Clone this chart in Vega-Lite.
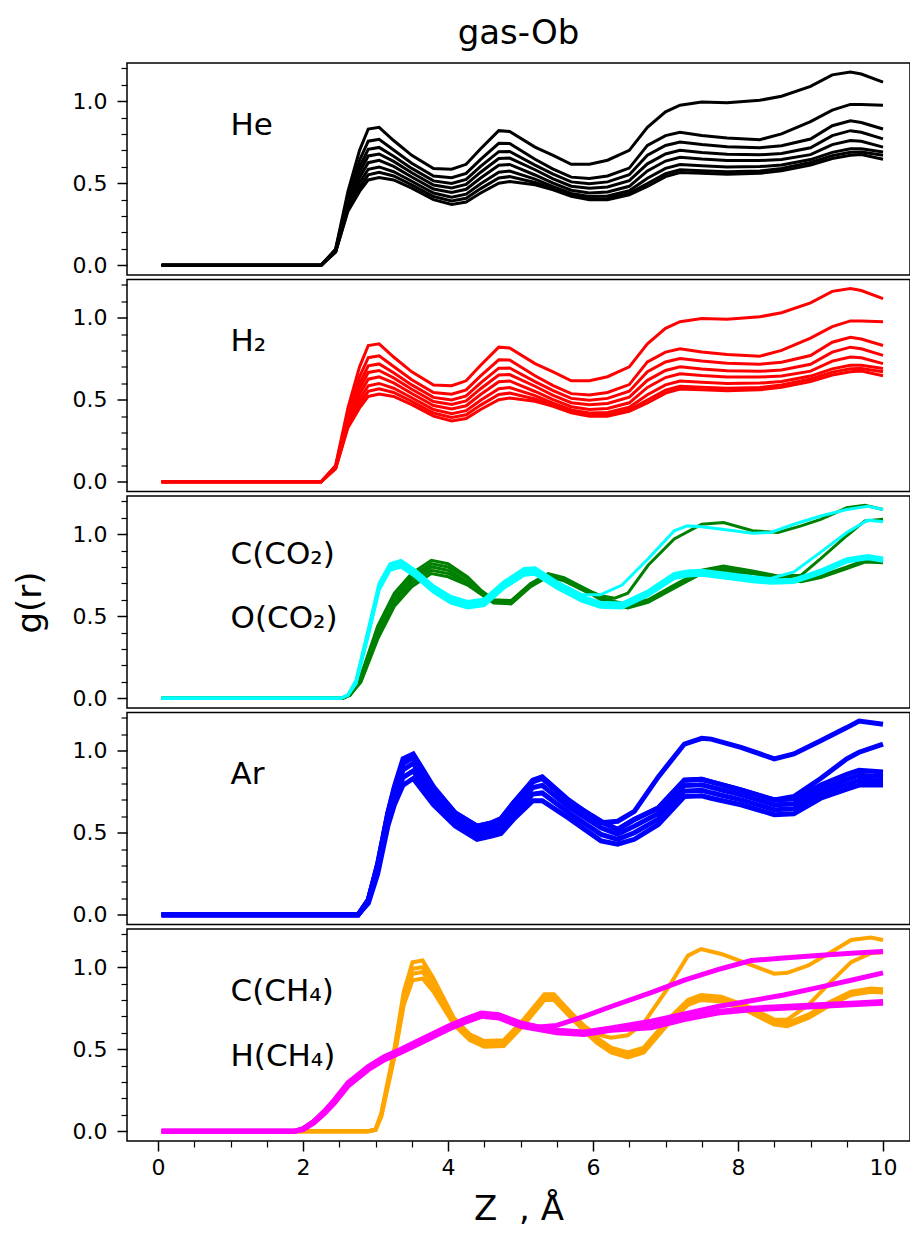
{
"$schema": "https://vega.github.io/schema/vega-lite/v6.json",
"padding": {"left": 12, "top": 16, "right": 0, "bottom": 5},
"spacing": 4.5,
"bounds": "flush",
"config": {
 "font": "DejaVu Sans",
 "view": {"stroke": "black", "strokeWidth": 1.5},
 "axis": {"labelFont": "DejaVu Sans", "labelFontSize": 22, "labelColor": "black", "tickColor": "black", "domain": false, "grid": false, "titleFont": "DejaVu Sans", "titleFontWeight": "normal", "titleColor": "black", "titleFontSize": 34, "labelPadding": 10}
},
"datasets": {
"he": [
{"s":1,"x":0.05,"y":0},{"s":1,"x":2.25,"y":0},{"s":1,"x":2.45,"y":0.10},{"s":1,"x":2.62,"y":0.45},{"s":1,"x":2.78,"y":0.70},{"s":1,"x":2.9,"y":0.83},{"s":1,"x":3.05,"y":0.84},{"s":1,"x":3.25,"y":0.76},{"s":1,"x":3.5,"y":0.67},{"s":1,"x":3.8,"y":0.59},{"s":1,"x":4.05,"y":0.585},{"s":1,"x":4.25,"y":0.615},{"s":1,"x":4.45,"y":0.71},{"s":1,"x":4.7,"y":0.82},{"s":1,"x":4.85,"y":0.815},{"s":1,"x":5.2,"y":0.72},{"s":1,"x":5.45,"y":0.67},{"s":1,"x":5.7,"y":0.615},{"s":1,"x":5.95,"y":0.615},{"s":1,"x":6.2,"y":0.64},{"s":1,"x":6.5,"y":0.70},{"s":1,"x":6.75,"y":0.84},{"s":1,"x":7.0,"y":0.935},{"s":1,"x":7.2,"y":0.975},{"s":1,"x":7.5,"y":0.994},{"s":1,"x":7.85,"y":0.99},{"s":1,"x":8.3,"y":1.005},{"s":1,"x":8.6,"y":1.03},{"s":1,"x":9.0,"y":1.09},{"s":1,"x":9.3,"y":1.16},{"s":1,"x":9.55,"y":1.177},{"s":1,"x":9.7,"y":1.165},{"s":1,"x":10.0,"y":1.116},
{"s":2,"x":0.05,"y":0},{"s":2,"x":2.25,"y":0},{"s":2,"x":2.45,"y":0.095},{"s":2,"x":2.62,"y":0.421},{"s":2,"x":2.78,"y":0.64},{"s":2,"x":2.9,"y":0.756},{"s":2,"x":3.05,"y":0.767},{"s":2,"x":3.25,"y":0.702},{"s":2,"x":3.5,"y":0.622},{"s":2,"x":3.8,"y":0.544},{"s":2,"x":4.05,"y":0.533},{"s":2,"x":4.25,"y":0.56},{"s":2,"x":4.45,"y":0.645},{"s":2,"x":4.7,"y":0.743},{"s":2,"x":4.85,"y":0.742},{"s":2,"x":5.2,"y":0.646},{"s":2,"x":5.45,"y":0.586},{"s":2,"x":5.7,"y":0.537},{"s":2,"x":5.95,"y":0.529},{"s":2,"x":6.2,"y":0.544},{"s":2,"x":6.5,"y":0.592},{"s":2,"x":6.75,"y":0.73},{"s":2,"x":7.0,"y":0.79},{"s":2,"x":7.2,"y":0.81},{"s":2,"x":7.5,"y":0.79},{"s":2,"x":7.85,"y":0.775},{"s":2,"x":8.3,"y":0.765},{"s":2,"x":8.6,"y":0.80},{"s":2,"x":9.0,"y":0.875},{"s":2,"x":9.3,"y":0.945},{"s":2,"x":9.55,"y":0.98},{"s":2,"x":9.7,"y":0.98},{"s":2,"x":10.0,"y":0.975},
{"s":3,"x":0.05,"y":0},{"s":3,"x":2.25,"y":0},{"s":3,"x":2.45,"y":0.092},{"s":3,"x":2.62,"y":0.402},{"s":3,"x":2.78,"y":0.60},{"s":3,"x":2.9,"y":0.706},{"s":3,"x":3.05,"y":0.718},{"s":3,"x":3.25,"y":0.664},{"s":3,"x":3.5,"y":0.59},{"s":3,"x":3.8,"y":0.514},{"s":3,"x":4.05,"y":0.499},{"s":3,"x":4.25,"y":0.523},{"s":3,"x":4.45,"y":0.602},{"s":3,"x":4.7,"y":0.692},{"s":3,"x":4.85,"y":0.693},{"s":3,"x":5.2,"y":0.61},{"s":3,"x":5.45,"y":0.555},{"s":3,"x":5.7,"y":0.508},{"s":3,"x":5.95,"y":0.497},{"s":3,"x":6.2,"y":0.508},{"s":3,"x":6.5,"y":0.552},{"s":3,"x":6.75,"y":0.67},{"s":3,"x":7.0,"y":0.73},{"s":3,"x":7.2,"y":0.751},{"s":3,"x":7.5,"y":0.735},{"s":3,"x":7.85,"y":0.722},{"s":3,"x":8.3,"y":0.716},{"s":3,"x":8.6,"y":0.728},{"s":3,"x":9.0,"y":0.769},{"s":3,"x":9.3,"y":0.85},{"s":3,"x":9.55,"y":0.88},{"s":3,"x":9.7,"y":0.87},{"s":3,"x":10.0,"y":0.83},
{"s":4,"x":0.05,"y":0},{"s":4,"x":2.25,"y":0},{"s":4,"x":2.45,"y":0.089},{"s":4,"x":2.62,"y":0.386},{"s":4,"x":2.78,"y":0.568},{"s":4,"x":2.9,"y":0.666},{"s":4,"x":3.05,"y":0.678},{"s":4,"x":3.25,"y":0.633},{"s":4,"x":3.5,"y":0.564},{"s":4,"x":3.8,"y":0.489},{"s":4,"x":4.05,"y":0.471},{"s":4,"x":4.25,"y":0.493},{"s":4,"x":4.45,"y":0.567},{"s":4,"x":4.7,"y":0.65},{"s":4,"x":4.85,"y":0.653},{"s":4,"x":5.2,"y":0.582},{"s":4,"x":5.45,"y":0.527},{"s":4,"x":5.7,"y":0.482},{"s":4,"x":5.95,"y":0.469},{"s":4,"x":6.2,"y":0.477},{"s":4,"x":6.5,"y":0.516},{"s":4,"x":6.75,"y":0.618},{"s":4,"x":7.0,"y":0.678},{"s":4,"x":7.2,"y":0.70},{"s":4,"x":7.5,"y":0.687},{"s":4,"x":7.85,"y":0.676},{"s":4,"x":8.3,"y":0.673},{"s":4,"x":8.6,"y":0.681},{"s":4,"x":9.0,"y":0.716},{"s":4,"x":9.3,"y":0.79},{"s":4,"x":9.55,"y":0.82},{"s":4,"x":9.7,"y":0.81},{"s":4,"x":10.0,"y":0.77},
{"s":5,"x":0.05,"y":0},{"s":5,"x":2.25,"y":0},{"s":5,"x":2.45,"y":0.087},{"s":5,"x":2.62,"y":0.371},{"s":5,"x":2.78,"y":0.535},{"s":5,"x":2.9,"y":0.625},{"s":5,"x":3.05,"y":0.639},{"s":5,"x":3.25,"y":0.602},{"s":5,"x":3.5,"y":0.538},{"s":5,"x":3.8,"y":0.465},{"s":5,"x":4.05,"y":0.443},{"s":5,"x":4.25,"y":0.463},{"s":5,"x":4.45,"y":0.532},{"s":5,"x":4.7,"y":0.609},{"s":5,"x":4.85,"y":0.614},{"s":5,"x":5.2,"y":0.55},{"s":5,"x":5.45,"y":0.50},{"s":5,"x":5.7,"y":0.457},{"s":5,"x":5.95,"y":0.441},{"s":5,"x":6.2,"y":0.446},{"s":5,"x":6.5,"y":0.481},{"s":5,"x":6.75,"y":0.575},{"s":5,"x":7.0,"y":0.635},{"s":5,"x":7.2,"y":0.658},{"s":5,"x":7.5,"y":0.647},{"s":5,"x":7.85,"y":0.639},{"s":5,"x":8.3,"y":0.638},{"s":5,"x":8.6,"y":0.645},{"s":5,"x":9.0,"y":0.674},{"s":5,"x":9.3,"y":0.735},{"s":5,"x":9.55,"y":0.76},{"s":5,"x":9.7,"y":0.755},{"s":5,"x":10.0,"y":0.72},
{"s":6,"x":0.05,"y":0},{"s":6,"x":2.25,"y":0},{"s":6,"x":2.45,"y":0.084},{"s":6,"x":2.62,"y":0.355},{"s":6,"x":2.78,"y":0.503},{"s":6,"x":2.9,"y":0.585},{"s":6,"x":3.05,"y":0.599},{"s":6,"x":3.25,"y":0.57},{"s":6,"x":3.5,"y":0.512},{"s":6,"x":3.8,"y":0.44},{"s":6,"x":4.05,"y":0.415},{"s":6,"x":4.25,"y":0.433},{"s":6,"x":4.45,"y":0.497},{"s":6,"x":4.7,"y":0.567},{"s":6,"x":4.85,"y":0.574},{"s":6,"x":5.2,"y":0.525},{"s":6,"x":5.45,"y":0.479},{"s":6,"x":5.7,"y":0.438},{"s":6,"x":5.95,"y":0.419},{"s":6,"x":6.2,"y":0.422},{"s":6,"x":6.5,"y":0.454},{"s":6,"x":6.75,"y":0.53},{"s":6,"x":7.0,"y":0.59},{"s":6,"x":7.2,"y":0.614},{"s":6,"x":7.5,"y":0.606},{"s":6,"x":7.85,"y":0.599},{"s":6,"x":8.3,"y":0.601},{"s":6,"x":8.6,"y":0.611},{"s":6,"x":9.0,"y":0.644},{"s":6,"x":9.3,"y":0.688},{"s":6,"x":9.55,"y":0.71},{"s":6,"x":9.7,"y":0.71},{"s":6,"x":10.0,"y":0.69},
{"s":7,"x":0.05,"y":0},{"s":7,"x":2.25,"y":0},{"s":7,"x":2.45,"y":0.082},{"s":7,"x":2.62,"y":0.342},{"s":7,"x":2.78,"y":0.475},{"s":7,"x":2.9,"y":0.551},{"s":7,"x":3.05,"y":0.566},{"s":7,"x":3.25,"y":0.544},{"s":7,"x":3.5,"y":0.49},{"s":7,"x":3.8,"y":0.419},{"s":7,"x":4.05,"y":0.392},{"s":7,"x":4.25,"y":0.408},{"s":7,"x":4.45,"y":0.467},{"s":7,"x":4.7,"y":0.532},{"s":7,"x":4.85,"y":0.54},{"s":7,"x":5.2,"y":0.504},{"s":7,"x":5.45,"y":0.466},{"s":7,"x":5.7,"y":0.426},{"s":7,"x":5.95,"y":0.406},{"s":7,"x":6.2,"y":0.407},{"s":7,"x":6.5,"y":0.438},{"s":7,"x":6.75,"y":0.498},{"s":7,"x":7.0,"y":0.558},{"s":7,"x":7.2,"y":0.582},{"s":7,"x":7.5,"y":0.576},{"s":7,"x":7.85,"y":0.57},{"s":7,"x":8.3,"y":0.574},{"s":7,"x":8.6,"y":0.59},{"s":7,"x":9.0,"y":0.626},{"s":7,"x":9.3,"y":0.668},{"s":7,"x":9.55,"y":0.689},{"s":7,"x":9.7,"y":0.69},{"s":7,"x":10.0,"y":0.67},
{"s":8,"x":0.05,"y":0},{"s":8,"x":2.25,"y":0},{"s":8,"x":2.45,"y":0.08},{"s":8,"x":2.62,"y":0.33},{"s":8,"x":2.78,"y":0.45},{"s":8,"x":2.9,"y":0.52},{"s":8,"x":3.05,"y":0.535},{"s":8,"x":3.25,"y":0.52},{"s":8,"x":3.5,"y":0.47},{"s":8,"x":3.8,"y":0.40},{"s":8,"x":4.05,"y":0.37},{"s":8,"x":4.25,"y":0.385},{"s":8,"x":4.45,"y":0.44},{"s":8,"x":4.7,"y":0.50},{"s":8,"x":4.85,"y":0.51},{"s":8,"x":5.2,"y":0.49},{"s":8,"x":5.45,"y":0.46},{"s":8,"x":5.7,"y":0.42},{"s":8,"x":5.95,"y":0.40},{"s":8,"x":6.2,"y":0.40},{"s":8,"x":6.5,"y":0.43},{"s":8,"x":6.75,"y":0.48},{"s":8,"x":7.0,"y":0.54},{"s":8,"x":7.2,"y":0.565},{"s":8,"x":7.5,"y":0.56},{"s":8,"x":7.85,"y":0.555},{"s":8,"x":8.3,"y":0.56},{"s":8,"x":8.6,"y":0.575},{"s":8,"x":9.0,"y":0.61},{"s":8,"x":9.3,"y":0.65},{"s":8,"x":9.55,"y":0.67},{"s":8,"x":9.7,"y":0.675},{"s":8,"x":10.0,"y":0.646}
],
"co2c": [
{"s":1,"x":0.05,"y":0},{"s":1,"x":2.55,"y":0},{"s":1,"x":2.65,"y":0.03},{"s":1,"x":2.8,"y":0.14},{"s":1,"x":3.03,"y":0.44},{"s":1,"x":3.26,"y":0.64},{"s":1,"x":3.5,"y":0.76},{"s":1,"x":3.77,"y":0.84},{"s":1,"x":4.0,"y":0.82},{"s":1,"x":4.27,"y":0.74},{"s":1,"x":4.45,"y":0.66},{"s":1,"x":4.63,"y":0.60},{"s":1,"x":4.87,"y":0.595},{"s":1,"x":5.14,"y":0.70},{"s":1,"x":5.38,"y":0.76},{"s":1,"x":5.6,"y":0.735},{"s":1,"x":5.97,"y":0.65},{"s":1,"x":6.11,"y":0.625},{"s":1,"x":6.3,"y":0.61},{"s":1,"x":6.48,"y":0.64},{"s":1,"x":6.76,"y":0.81},{"s":1,"x":7.12,"y":0.97},{"s":1,"x":7.5,"y":1.06},{"s":1,"x":7.8,"y":1.07},{"s":1,"x":8.2,"y":1.02},{"s":1,"x":8.55,"y":1.01},{"s":1,"x":8.87,"y":1.05},{"s":1,"x":9.14,"y":1.09},{"s":1,"x":9.5,"y":1.16},{"s":1,"x":9.75,"y":1.175},{"s":1,"x":10.0,"y":1.15},
{"s":2,"x":0.05,"y":0},{"s":2,"x":2.55,"y":0},{"s":2,"x":2.65,"y":0.03},{"s":2,"x":2.8,"y":0.13},{"s":2,"x":3.03,"y":0.42},{"s":2,"x":3.26,"y":0.62},{"s":2,"x":3.5,"y":0.74},{"s":2,"x":3.77,"y":0.82},{"s":2,"x":4.0,"y":0.80},{"s":2,"x":4.27,"y":0.73},{"s":2,"x":4.45,"y":0.655},{"s":2,"x":4.63,"y":0.595},{"s":2,"x":4.87,"y":0.59},{"s":2,"x":5.14,"y":0.695},{"s":2,"x":5.38,"y":0.755},{"s":2,"x":5.6,"y":0.73},{"s":2,"x":5.97,"y":0.65},{"s":2,"x":6.11,"y":0.615},{"s":2,"x":6.3,"y":0.59},{"s":2,"x":6.48,"y":0.57},{"s":2,"x":6.76,"y":0.60},{"s":2,"x":7.12,"y":0.69},{"s":2,"x":7.5,"y":0.78},{"s":2,"x":7.8,"y":0.805},{"s":2,"x":8.2,"y":0.775},{"s":2,"x":8.55,"y":0.745},{"s":2,"x":8.87,"y":0.75},{"s":2,"x":9.14,"y":0.85},{"s":2,"x":9.5,"y":0.99},{"s":2,"x":9.75,"y":1.08},{"s":2,"x":10.0,"y":1.09},
{"s":3,"x":0.05,"y":0},{"s":3,"x":2.55,"y":0},{"s":3,"x":2.65,"y":0.02},{"s":3,"x":2.8,"y":0.12},{"s":3,"x":3.03,"y":0.40},{"s":3,"x":3.26,"y":0.60},{"s":3,"x":3.5,"y":0.72},{"s":3,"x":3.77,"y":0.80},{"s":3,"x":4.0,"y":0.78},{"s":3,"x":4.27,"y":0.71},{"s":3,"x":4.45,"y":0.65},{"s":3,"x":4.63,"y":0.59},{"s":3,"x":4.87,"y":0.585},{"s":3,"x":5.14,"y":0.69},{"s":3,"x":5.38,"y":0.75},{"s":3,"x":5.6,"y":0.725},{"s":3,"x":5.97,"y":0.645},{"s":3,"x":6.11,"y":0.61},{"s":3,"x":6.3,"y":0.58},{"s":3,"x":6.48,"y":0.56},{"s":3,"x":6.76,"y":0.595},{"s":3,"x":7.12,"y":0.68},{"s":3,"x":7.5,"y":0.77},{"s":3,"x":7.8,"y":0.79},{"s":3,"x":8.2,"y":0.77},{"s":3,"x":8.55,"y":0.74},{"s":3,"x":8.87,"y":0.72},{"s":3,"x":9.14,"y":0.745},{"s":3,"x":9.5,"y":0.80},{"s":3,"x":9.75,"y":0.84},{"s":3,"x":10.0,"y":0.835},
{"s":4,"x":0.05,"y":0},{"s":4,"x":2.55,"y":0},{"s":4,"x":2.65,"y":0.02},{"s":4,"x":2.8,"y":0.11},{"s":4,"x":3.03,"y":0.38},{"s":4,"x":3.26,"y":0.58},{"s":4,"x":3.5,"y":0.70},{"s":4,"x":3.77,"y":0.78},{"s":4,"x":4.0,"y":0.76},{"s":4,"x":4.27,"y":0.70},{"s":4,"x":4.45,"y":0.64},{"s":4,"x":4.63,"y":0.585},{"s":4,"x":4.87,"y":0.58},{"s":4,"x":5.14,"y":0.685},{"s":4,"x":5.38,"y":0.745},{"s":4,"x":5.6,"y":0.72},{"s":4,"x":5.97,"y":0.64},{"s":4,"x":6.11,"y":0.605},{"s":4,"x":6.3,"y":0.575},{"s":4,"x":6.48,"y":0.555},{"s":4,"x":6.76,"y":0.59},{"s":4,"x":7.12,"y":0.675},{"s":4,"x":7.5,"y":0.765},{"s":4,"x":7.8,"y":0.78},{"s":4,"x":8.2,"y":0.765},{"s":4,"x":8.55,"y":0.735},{"s":4,"x":8.87,"y":0.715},{"s":4,"x":9.14,"y":0.74},{"s":4,"x":9.5,"y":0.795},{"s":4,"x":9.75,"y":0.835},{"s":4,"x":10.0,"y":0.83},
{"s":5,"x":0.05,"y":0},{"s":5,"x":2.55,"y":0},{"s":5,"x":2.65,"y":0.02},{"s":5,"x":2.8,"y":0.10},{"s":5,"x":3.03,"y":0.36},{"s":5,"x":3.26,"y":0.56},{"s":5,"x":3.5,"y":0.68},{"s":5,"x":3.77,"y":0.76},{"s":5,"x":4.0,"y":0.74},{"s":5,"x":4.27,"y":0.69},{"s":5,"x":4.45,"y":0.635},{"s":5,"x":4.63,"y":0.58},{"s":5,"x":4.87,"y":0.575},{"s":5,"x":5.14,"y":0.68},{"s":5,"x":5.38,"y":0.74},{"s":5,"x":5.6,"y":0.715},{"s":5,"x":5.97,"y":0.635},{"s":5,"x":6.11,"y":0.60},{"s":5,"x":6.3,"y":0.57},{"s":5,"x":6.48,"y":0.55},{"s":5,"x":6.76,"y":0.585},{"s":5,"x":7.12,"y":0.67},{"s":5,"x":7.5,"y":0.76},{"s":5,"x":7.8,"y":0.77},{"s":5,"x":8.2,"y":0.76},{"s":5,"x":8.55,"y":0.73},{"s":5,"x":8.87,"y":0.71},{"s":5,"x":9.14,"y":0.735},{"s":5,"x":9.5,"y":0.79},{"s":5,"x":9.75,"y":0.83},{"s":5,"x":10.0,"y":0.825}
],
"co2o": [
{"s":1,"x":0.05,"y":0},{"s":1,"x":2.52,"y":0},{"s":1,"x":2.62,"y":0.02},{"s":1,"x":2.73,"y":0.11},{"s":1,"x":2.9,"y":0.42},{"s":1,"x":3.05,"y":0.70},{"s":1,"x":3.2,"y":0.82},{"s":1,"x":3.35,"y":0.84},{"s":1,"x":3.55,"y":0.78},{"s":1,"x":3.8,"y":0.685},{"s":1,"x":4.04,"y":0.62},{"s":1,"x":4.27,"y":0.59},{"s":1,"x":4.5,"y":0.605},{"s":1,"x":4.77,"y":0.71},{"s":1,"x":5.05,"y":0.79},{"s":1,"x":5.2,"y":0.795},{"s":1,"x":5.5,"y":0.71},{"s":1,"x":5.85,"y":0.63},{"s":1,"x":6.1,"y":0.63},{"s":1,"x":6.4,"y":0.69},{"s":1,"x":6.76,"y":0.85},{"s":1,"x":7.12,"y":1.02},{"s":1,"x":7.3,"y":1.05},{"s":1,"x":7.5,"y":1.045},{"s":1,"x":7.94,"y":1.02},{"s":1,"x":8.2,"y":1.005},{"s":1,"x":8.45,"y":1.01},{"s":1,"x":8.77,"y":1.06},{"s":1,"x":9.14,"y":1.11},{"s":1,"x":9.5,"y":1.15},{"s":1,"x":9.79,"y":1.17},{"s":1,"x":10.0,"y":1.15},
{"s":2,"x":0.05,"y":0},{"s":2,"x":2.52,"y":0},{"s":2,"x":2.62,"y":0.02},{"s":2,"x":2.73,"y":0.10},{"s":2,"x":2.9,"y":0.41},{"s":2,"x":3.05,"y":0.69},{"s":2,"x":3.2,"y":0.81},{"s":2,"x":3.35,"y":0.83},{"s":2,"x":3.55,"y":0.77},{"s":2,"x":3.8,"y":0.675},{"s":2,"x":4.04,"y":0.61},{"s":2,"x":4.27,"y":0.58},{"s":2,"x":4.5,"y":0.595},{"s":2,"x":4.77,"y":0.70},{"s":2,"x":5.05,"y":0.78},{"s":2,"x":5.2,"y":0.785},{"s":2,"x":5.5,"y":0.70},{"s":2,"x":5.85,"y":0.62},{"s":2,"x":6.1,"y":0.585},{"s":2,"x":6.4,"y":0.58},{"s":2,"x":6.76,"y":0.655},{"s":2,"x":7.12,"y":0.76},{"s":2,"x":7.3,"y":0.775},{"s":2,"x":7.5,"y":0.78},{"s":2,"x":7.94,"y":0.755},{"s":2,"x":8.2,"y":0.74},{"s":2,"x":8.45,"y":0.73},{"s":2,"x":8.77,"y":0.77},{"s":2,"x":9.14,"y":0.89},{"s":2,"x":9.5,"y":1.01},{"s":2,"x":9.79,"y":1.085},{"s":2,"x":10.0,"y":1.075},
{"s":3,"x":0.05,"y":0},{"s":3,"x":2.52,"y":0},{"s":3,"x":2.62,"y":0.02},{"s":3,"x":2.73,"y":0.10},{"s":3,"x":2.9,"y":0.40},{"s":3,"x":3.05,"y":0.68},{"s":3,"x":3.2,"y":0.80},{"s":3,"x":3.35,"y":0.82},{"s":3,"x":3.55,"y":0.76},{"s":3,"x":3.8,"y":0.665},{"s":3,"x":4.04,"y":0.60},{"s":3,"x":4.27,"y":0.57},{"s":3,"x":4.5,"y":0.585},{"s":3,"x":4.77,"y":0.69},{"s":3,"x":5.05,"y":0.77},{"s":3,"x":5.2,"y":0.775},{"s":3,"x":5.5,"y":0.69},{"s":3,"x":5.85,"y":0.61},{"s":3,"x":6.1,"y":0.575},{"s":3,"x":6.4,"y":0.57},{"s":3,"x":6.76,"y":0.645},{"s":3,"x":7.12,"y":0.75},{"s":3,"x":7.3,"y":0.765},{"s":3,"x":7.5,"y":0.77},{"s":3,"x":7.94,"y":0.745},{"s":3,"x":8.2,"y":0.73},{"s":3,"x":8.45,"y":0.72},{"s":3,"x":8.77,"y":0.725},{"s":3,"x":9.14,"y":0.78},{"s":3,"x":9.5,"y":0.85},{"s":3,"x":9.79,"y":0.87},{"s":3,"x":10.0,"y":0.855},
{"s":4,"x":0.05,"y":0},{"s":4,"x":2.52,"y":0},{"s":4,"x":2.62,"y":0.02},{"s":4,"x":2.73,"y":0.09},{"s":4,"x":2.9,"y":0.39},{"s":4,"x":3.05,"y":0.67},{"s":4,"x":3.2,"y":0.79},{"s":4,"x":3.35,"y":0.81},{"s":4,"x":3.55,"y":0.75},{"s":4,"x":3.8,"y":0.655},{"s":4,"x":4.04,"y":0.59},{"s":4,"x":4.27,"y":0.56},{"s":4,"x":4.5,"y":0.575},{"s":4,"x":4.77,"y":0.68},{"s":4,"x":5.05,"y":0.76},{"s":4,"x":5.2,"y":0.765},{"s":4,"x":5.5,"y":0.68},{"s":4,"x":5.85,"y":0.60},{"s":4,"x":6.1,"y":0.565},{"s":4,"x":6.4,"y":0.56},{"s":4,"x":6.76,"y":0.635},{"s":4,"x":7.12,"y":0.74},{"s":4,"x":7.3,"y":0.755},{"s":4,"x":7.5,"y":0.76},{"s":4,"x":7.94,"y":0.735},{"s":4,"x":8.2,"y":0.72},{"s":4,"x":8.45,"y":0.71},{"s":4,"x":8.77,"y":0.715},{"s":4,"x":9.14,"y":0.77},{"s":4,"x":9.5,"y":0.84},{"s":4,"x":9.79,"y":0.86},{"s":4,"x":10.0,"y":0.845},
{"s":5,"x":0.05,"y":0},{"s":5,"x":2.52,"y":0},{"s":5,"x":2.62,"y":0.02},{"s":5,"x":2.73,"y":0.09},{"s":5,"x":2.9,"y":0.38},{"s":5,"x":3.05,"y":0.66},{"s":5,"x":3.2,"y":0.78},{"s":5,"x":3.35,"y":0.80},{"s":5,"x":3.55,"y":0.74},{"s":5,"x":3.8,"y":0.645},{"s":5,"x":4.04,"y":0.58},{"s":5,"x":4.27,"y":0.55},{"s":5,"x":4.5,"y":0.565},{"s":5,"x":4.77,"y":0.67},{"s":5,"x":5.05,"y":0.75},{"s":5,"x":5.2,"y":0.755},{"s":5,"x":5.5,"y":0.67},{"s":5,"x":5.85,"y":0.59},{"s":5,"x":6.1,"y":0.555},{"s":5,"x":6.4,"y":0.55},{"s":5,"x":6.76,"y":0.625},{"s":5,"x":7.12,"y":0.73},{"s":5,"x":7.3,"y":0.745},{"s":5,"x":7.5,"y":0.75},{"s":5,"x":7.94,"y":0.725},{"s":5,"x":8.2,"y":0.71},{"s":5,"x":8.45,"y":0.70},{"s":5,"x":8.77,"y":0.705},{"s":5,"x":9.14,"y":0.76},{"s":5,"x":9.5,"y":0.83},{"s":5,"x":9.79,"y":0.85},{"s":5,"x":10.0,"y":0.835}
],
"ar": [
{"s":1,"x":0.05,"y":0},{"s":1,"x":2.76,"y":0},{"s":1,"x":2.9,"y":0.09},{"s":1,"x":3.03,"y":0.31},{"s":1,"x":3.17,"y":0.62},{"s":1,"x":3.26,"y":0.78},{"s":1,"x":3.38,"y":0.95},{"s":1,"x":3.52,"y":0.98},{"s":1,"x":3.8,"y":0.78},{"s":1,"x":4.1,"y":0.62},{"s":1,"x":4.4,"y":0.54},{"s":1,"x":4.6,"y":0.56},{"s":1,"x":4.73,"y":0.585},{"s":1,"x":4.9,"y":0.68},{"s":1,"x":5.17,"y":0.82},{"s":1,"x":5.3,"y":0.84},{"s":1,"x":5.66,"y":0.70},{"s":1,"x":6.11,"y":0.56},{"s":1,"x":6.34,"y":0.57},{"s":1,"x":6.57,"y":0.63},{"s":1,"x":6.9,"y":0.84},{"s":1,"x":7.26,"y":1.04},{"s":1,"x":7.5,"y":1.075},{"s":1,"x":7.63,"y":1.07},{"s":1,"x":8.04,"y":1.02},{"s":1,"x":8.5,"y":0.95},{"s":1,"x":8.77,"y":0.98},{"s":1,"x":9.14,"y":1.06},{"s":1,"x":9.5,"y":1.14},{"s":1,"x":9.67,"y":1.18},{"s":1,"x":10.0,"y":1.16},
{"s":2,"x":0.05,"y":0},{"s":2,"x":2.76,"y":0},{"s":2,"x":2.9,"y":0.09},{"s":2,"x":3.03,"y":0.30},{"s":2,"x":3.17,"y":0.61},{"s":2,"x":3.26,"y":0.76},{"s":2,"x":3.38,"y":0.92},{"s":2,"x":3.52,"y":0.96},{"s":2,"x":3.8,"y":0.77},{"s":2,"x":4.1,"y":0.61},{"s":2,"x":4.4,"y":0.53},{"s":2,"x":4.6,"y":0.55},{"s":2,"x":4.73,"y":0.58},{"s":2,"x":4.9,"y":0.67},{"s":2,"x":5.17,"y":0.81},{"s":2,"x":5.3,"y":0.83},{"s":2,"x":5.66,"y":0.69},{"s":2,"x":6.11,"y":0.565},{"s":2,"x":6.34,"y":0.52},{"s":2,"x":6.57,"y":0.58},{"s":2,"x":6.9,"y":0.65},{"s":2,"x":7.26,"y":0.82},{"s":2,"x":7.5,"y":0.825},{"s":2,"x":7.63,"y":0.81},{"s":2,"x":8.04,"y":0.76},{"s":2,"x":8.5,"y":0.70},{"s":2,"x":8.77,"y":0.72},{"s":2,"x":9.14,"y":0.83},{"s":2,"x":9.5,"y":0.95},{"s":2,"x":9.67,"y":0.99},{"s":2,"x":10.0,"y":1.04},
{"s":3,"x":0.05,"y":0},{"s":3,"x":2.76,"y":0},{"s":3,"x":2.9,"y":0.09},{"s":3,"x":3.03,"y":0.31},{"s":3,"x":3.17,"y":0.62},{"s":3,"x":3.26,"y":0.77},{"s":3,"x":3.38,"y":0.93},{"s":3,"x":3.52,"y":0.97},{"s":3,"x":3.8,"y":0.77},{"s":3,"x":4.1,"y":0.62},{"s":3,"x":4.4,"y":0.54},{"s":3,"x":4.6,"y":0.56},{"s":3,"x":4.73,"y":0.585},{"s":3,"x":4.9,"y":0.68},{"s":3,"x":5.17,"y":0.815},{"s":3,"x":5.3,"y":0.835},{"s":3,"x":5.66,"y":0.69},{"s":3,"x":6.11,"y":0.57},{"s":3,"x":6.34,"y":0.52},{"s":3,"x":6.57,"y":0.58},{"s":3,"x":6.9,"y":0.65},{"s":3,"x":7.26,"y":0.82},{"s":3,"x":7.5,"y":0.825},{"s":3,"x":7.63,"y":0.81},{"s":3,"x":8.04,"y":0.76},{"s":3,"x":8.5,"y":0.70},{"s":3,"x":8.77,"y":0.705},{"s":3,"x":9.14,"y":0.79},{"s":3,"x":9.5,"y":0.855},{"s":3,"x":9.67,"y":0.88},{"s":3,"x":10.0,"y":0.87},
{"s":4,"x":0.05,"y":0},{"s":4,"x":2.76,"y":0},{"s":4,"x":2.9,"y":0.083},{"s":4,"x":3.03,"y":0.29},{"s":4,"x":3.17,"y":0.593},{"s":4,"x":3.26,"y":0.737},{"s":4,"x":3.38,"y":0.883},{"s":4,"x":3.52,"y":0.923},{"s":4,"x":3.8,"y":0.737},{"s":4,"x":4.1,"y":0.593},{"s":4,"x":4.4,"y":0.513},{"s":4,"x":4.6,"y":0.533},{"s":4,"x":4.73,"y":0.555},{"s":4,"x":4.9,"y":0.647},{"s":4,"x":5.17,"y":0.775},{"s":4,"x":5.3,"y":0.788},{"s":4,"x":5.66,"y":0.657},{"s":4,"x":6.11,"y":0.53},{"s":4,"x":6.34,"y":0.49},{"s":4,"x":6.57,"y":0.54},{"s":4,"x":6.9,"y":0.617},{"s":4,"x":7.26,"y":0.787},{"s":4,"x":7.5,"y":0.792},{"s":4,"x":7.63,"y":0.777},{"s":4,"x":8.04,"y":0.73},{"s":4,"x":8.5,"y":0.67},{"s":4,"x":8.77,"y":0.675},{"s":4,"x":9.14,"y":0.763},{"s":4,"x":9.5,"y":0.825},{"s":4,"x":9.67,"y":0.85},{"s":4,"x":10.0,"y":0.843},
{"s":5,"x":0.05,"y":0},{"s":5,"x":2.76,"y":0},{"s":5,"x":2.9,"y":0.077},{"s":5,"x":3.03,"y":0.27},{"s":5,"x":3.17,"y":0.567},{"s":5,"x":3.26,"y":0.703},{"s":5,"x":3.38,"y":0.837},{"s":5,"x":3.52,"y":0.877},{"s":5,"x":3.8,"y":0.703},{"s":5,"x":4.1,"y":0.567},{"s":5,"x":4.4,"y":0.487},{"s":5,"x":4.6,"y":0.507},{"s":5,"x":4.73,"y":0.525},{"s":5,"x":4.9,"y":0.613},{"s":5,"x":5.17,"y":0.735},{"s":5,"x":5.3,"y":0.742},{"s":5,"x":5.66,"y":0.623},{"s":5,"x":6.11,"y":0.49},{"s":5,"x":6.34,"y":0.46},{"s":5,"x":6.57,"y":0.50},{"s":5,"x":6.9,"y":0.583},{"s":5,"x":7.26,"y":0.753},{"s":5,"x":7.5,"y":0.758},{"s":5,"x":7.63,"y":0.743},{"s":5,"x":8.04,"y":0.70},{"s":5,"x":8.5,"y":0.64},{"s":5,"x":8.77,"y":0.645},{"s":5,"x":9.14,"y":0.737},{"s":5,"x":9.5,"y":0.795},{"s":5,"x":9.67,"y":0.82},{"s":5,"x":10.0,"y":0.817},
{"s":6,"x":0.05,"y":0},{"s":6,"x":2.76,"y":0},{"s":6,"x":2.9,"y":0.07},{"s":6,"x":3.03,"y":0.25},{"s":6,"x":3.17,"y":0.54},{"s":6,"x":3.26,"y":0.67},{"s":6,"x":3.38,"y":0.79},{"s":6,"x":3.52,"y":0.83},{"s":6,"x":3.8,"y":0.67},{"s":6,"x":4.1,"y":0.54},{"s":6,"x":4.4,"y":0.46},{"s":6,"x":4.6,"y":0.48},{"s":6,"x":4.73,"y":0.495},{"s":6,"x":4.9,"y":0.58},{"s":6,"x":5.17,"y":0.695},{"s":6,"x":5.3,"y":0.695},{"s":6,"x":5.66,"y":0.59},{"s":6,"x":6.11,"y":0.45},{"s":6,"x":6.34,"y":0.43},{"s":6,"x":6.57,"y":0.46},{"s":6,"x":6.9,"y":0.55},{"s":6,"x":7.26,"y":0.72},{"s":6,"x":7.5,"y":0.725},{"s":6,"x":7.63,"y":0.71},{"s":6,"x":8.04,"y":0.67},{"s":6,"x":8.5,"y":0.61},{"s":6,"x":8.77,"y":0.615},{"s":6,"x":9.14,"y":0.71},{"s":6,"x":9.5,"y":0.765},{"s":6,"x":9.67,"y":0.79},{"s":6,"x":10.0,"y":0.79}
],
"ch4c": [
{"s":1,"x":0.05,"y":0},{"s":1,"x":2.9,"y":0},{"s":1,"x":3.0,"y":0.01},{"s":1,"x":3.08,"y":0.11},{"s":1,"x":3.26,"y":0.50},{"s":1,"x":3.39,"y":0.85},{"s":1,"x":3.51,"y":1.03},{"s":1,"x":3.65,"y":1.04},{"s":1,"x":3.8,"y":0.93},{"s":1,"x":4.08,"y":0.69},{"s":1,"x":4.3,"y":0.59},{"s":1,"x":4.5,"y":0.55},{"s":1,"x":4.77,"y":0.555},{"s":1,"x":5.05,"y":0.685},{"s":1,"x":5.33,"y":0.835},{"s":1,"x":5.46,"y":0.835},{"s":1,"x":5.7,"y":0.72},{"s":1,"x":5.88,"y":0.64},{"s":1,"x":6.05,"y":0.59},{"s":1,"x":6.25,"y":0.57},{"s":1,"x":6.48,"y":0.585},{"s":1,"x":6.7,"y":0.66},{"s":1,"x":7.03,"y":0.87},{"s":1,"x":7.31,"y":1.07},{"s":1,"x":7.49,"y":1.11},{"s":1,"x":7.77,"y":1.08},{"s":1,"x":8.14,"y":1.02},{"s":1,"x":8.5,"y":0.96},{"s":1,"x":8.68,"y":0.965},{"s":1,"x":8.97,"y":1.01},{"s":1,"x":9.28,"y":1.09},{"s":1,"x":9.56,"y":1.165},{"s":1,"x":9.83,"y":1.18},{"s":1,"x":10.0,"y":1.165},
{"s":2,"x":0.05,"y":0},{"s":2,"x":2.9,"y":0},{"s":2,"x":3.0,"y":0.01},{"s":2,"x":3.08,"y":0.10},{"s":2,"x":3.26,"y":0.48},{"s":2,"x":3.39,"y":0.82},{"s":2,"x":3.51,"y":0.99},{"s":2,"x":3.65,"y":1.00},{"s":2,"x":3.8,"y":0.90},{"s":2,"x":4.08,"y":0.68},{"s":2,"x":4.3,"y":0.585},{"s":2,"x":4.5,"y":0.545},{"s":2,"x":4.77,"y":0.55},{"s":2,"x":5.05,"y":0.68},{"s":2,"x":5.33,"y":0.83},{"s":2,"x":5.46,"y":0.83},{"s":2,"x":5.7,"y":0.72},{"s":2,"x":5.88,"y":0.64},{"s":2,"x":6.05,"y":0.57},{"s":2,"x":6.25,"y":0.51},{"s":2,"x":6.48,"y":0.48},{"s":2,"x":6.7,"y":0.51},{"s":2,"x":7.03,"y":0.68},{"s":2,"x":7.31,"y":0.80},{"s":2,"x":7.49,"y":0.83},{"s":2,"x":7.77,"y":0.82},{"s":2,"x":8.14,"y":0.76},{"s":2,"x":8.5,"y":0.68},{"s":2,"x":8.68,"y":0.68},{"s":2,"x":8.97,"y":0.77},{"s":2,"x":9.28,"y":0.91},{"s":2,"x":9.56,"y":1.03},{"s":2,"x":9.83,"y":1.085},{"s":2,"x":10.0,"y":1.09},
{"s":3,"x":0.05,"y":0},{"s":3,"x":2.9,"y":0},{"s":3,"x":3.0,"y":0.01},{"s":3,"x":3.08,"y":0.10},{"s":3,"x":3.26,"y":0.47},{"s":3,"x":3.39,"y":0.80},{"s":3,"x":3.51,"y":0.96},{"s":3,"x":3.65,"y":0.97},{"s":3,"x":3.8,"y":0.88},{"s":3,"x":4.08,"y":0.67},{"s":3,"x":4.3,"y":0.575},{"s":3,"x":4.5,"y":0.535},{"s":3,"x":4.77,"y":0.54},{"s":3,"x":5.05,"y":0.67},{"s":3,"x":5.33,"y":0.82},{"s":3,"x":5.46,"y":0.82},{"s":3,"x":5.7,"y":0.71},{"s":3,"x":5.88,"y":0.63},{"s":3,"x":6.05,"y":0.56},{"s":3,"x":6.25,"y":0.50},{"s":3,"x":6.48,"y":0.47},{"s":3,"x":6.7,"y":0.50},{"s":3,"x":7.03,"y":0.67},{"s":3,"x":7.31,"y":0.79},{"s":3,"x":7.49,"y":0.82},{"s":3,"x":7.77,"y":0.81},{"s":3,"x":8.14,"y":0.75},{"s":3,"x":8.5,"y":0.67},{"s":3,"x":8.68,"y":0.66},{"s":3,"x":8.97,"y":0.71},{"s":3,"x":9.28,"y":0.79},{"s":3,"x":9.56,"y":0.85},{"s":3,"x":9.83,"y":0.87},{"s":3,"x":10.0,"y":0.865},
{"s":4,"x":0.05,"y":0},{"s":4,"x":2.9,"y":0},{"s":4,"x":3.0,"y":0.01},{"s":4,"x":3.08,"y":0.09},{"s":4,"x":3.26,"y":0.45},{"s":4,"x":3.39,"y":0.77},{"s":4,"x":3.51,"y":0.92},{"s":4,"x":3.65,"y":0.93},{"s":4,"x":3.8,"y":0.85},{"s":4,"x":4.08,"y":0.65},{"s":4,"x":4.3,"y":0.555},{"s":4,"x":4.5,"y":0.515},{"s":4,"x":4.77,"y":0.52},{"s":4,"x":5.05,"y":0.65},{"s":4,"x":5.33,"y":0.80},{"s":4,"x":5.46,"y":0.80},{"s":4,"x":5.7,"y":0.69},{"s":4,"x":5.88,"y":0.61},{"s":4,"x":6.05,"y":0.54},{"s":4,"x":6.25,"y":0.48},{"s":4,"x":6.48,"y":0.45},{"s":4,"x":6.7,"y":0.48},{"s":4,"x":7.03,"y":0.65},{"s":4,"x":7.31,"y":0.77},{"s":4,"x":7.49,"y":0.80},{"s":4,"x":7.77,"y":0.79},{"s":4,"x":8.14,"y":0.73},{"s":4,"x":8.5,"y":0.65},{"s":4,"x":8.68,"y":0.64},{"s":4,"x":8.97,"y":0.69},{"s":4,"x":9.28,"y":0.77},{"s":4,"x":9.56,"y":0.83},{"s":4,"x":9.83,"y":0.85},{"s":4,"x":10.0,"y":0.845}
],
"ch4h": [
{"s":1,"x":0.05,"y":0},{"s":1,"x":1.88,"y":0},{"s":1,"x":2.0,"y":0.015},{"s":1,"x":2.15,"y":0.06},{"s":1,"x":2.3,"y":0.125},{"s":1,"x":2.43,"y":0.19},{"s":1,"x":2.62,"y":0.295},{"s":1,"x":2.9,"y":0.395},{"s":1,"x":3.12,"y":0.455},{"s":1,"x":3.35,"y":0.50},{"s":1,"x":3.63,"y":0.56},{"s":1,"x":4.0,"y":0.64},{"s":1,"x":4.27,"y":0.69},{"s":1,"x":4.46,"y":0.72},{"s":1,"x":4.7,"y":0.71},{"s":1,"x":5.0,"y":0.66},{"s":1,"x":5.25,"y":0.635},{"s":1,"x":5.5,"y":0.645},{"s":1,"x":5.88,"y":0.70},{"s":1,"x":6.25,"y":0.76},{"s":1,"x":6.8,"y":0.845},{"s":1,"x":7.26,"y":0.92},{"s":1,"x":7.72,"y":0.985},{"s":1,"x":8.18,"y":1.04},{"s":1,"x":8.63,"y":1.055},{"s":1,"x":9.1,"y":1.07},{"s":1,"x":9.56,"y":1.085},{"s":1,"x":10.0,"y":1.095},
{"s":2,"x":0.05,"y":0},{"s":2,"x":1.88,"y":0},{"s":2,"x":2.0,"y":0.015},{"s":2,"x":2.15,"y":0.06},{"s":2,"x":2.3,"y":0.12},{"s":2,"x":2.43,"y":0.185},{"s":2,"x":2.62,"y":0.29},{"s":2,"x":2.9,"y":0.39},{"s":2,"x":3.12,"y":0.45},{"s":2,"x":3.35,"y":0.495},{"s":2,"x":3.63,"y":0.555},{"s":2,"x":4.0,"y":0.635},{"s":2,"x":4.27,"y":0.685},{"s":2,"x":4.46,"y":0.715},{"s":2,"x":4.7,"y":0.705},{"s":2,"x":5.0,"y":0.655},{"s":2,"x":5.25,"y":0.635},{"s":2,"x":5.5,"y":0.615},{"s":2,"x":5.88,"y":0.605},{"s":2,"x":6.25,"y":0.63},{"s":2,"x":6.8,"y":0.67},{"s":2,"x":7.26,"y":0.715},{"s":2,"x":7.72,"y":0.76},{"s":2,"x":8.18,"y":0.795},{"s":2,"x":8.63,"y":0.83},{"s":2,"x":9.1,"y":0.875},{"s":2,"x":9.56,"y":0.92},{"s":2,"x":10.0,"y":0.965},
{"s":3,"x":0.05,"y":0},{"s":3,"x":1.88,"y":0},{"s":3,"x":2.0,"y":0.015},{"s":3,"x":2.15,"y":0.06},{"s":3,"x":2.3,"y":0.12},{"s":3,"x":2.43,"y":0.18},{"s":3,"x":2.62,"y":0.285},{"s":3,"x":2.9,"y":0.385},{"s":3,"x":3.12,"y":0.445},{"s":3,"x":3.35,"y":0.49},{"s":3,"x":3.63,"y":0.55},{"s":3,"x":4.0,"y":0.63},{"s":3,"x":4.27,"y":0.68},{"s":3,"x":4.46,"y":0.71},{"s":3,"x":4.7,"y":0.70},{"s":3,"x":5.0,"y":0.65},{"s":3,"x":5.25,"y":0.63},{"s":3,"x":5.5,"y":0.61},{"s":3,"x":5.88,"y":0.60},{"s":3,"x":6.25,"y":0.625},{"s":3,"x":6.8,"y":0.64},{"s":3,"x":7.26,"y":0.69},{"s":3,"x":7.72,"y":0.73},{"s":3,"x":8.18,"y":0.75},{"s":3,"x":8.63,"y":0.76},{"s":3,"x":9.1,"y":0.77},{"s":3,"x":9.56,"y":0.78},{"s":3,"x":10.0,"y":0.79},
{"s":4,"x":0.05,"y":0},{"s":4,"x":1.88,"y":0},{"s":4,"x":2.0,"y":0.01},{"s":4,"x":2.15,"y":0.05},{"s":4,"x":2.3,"y":0.11},{"s":4,"x":2.43,"y":0.17},{"s":4,"x":2.62,"y":0.275},{"s":4,"x":2.9,"y":0.375},{"s":4,"x":3.12,"y":0.435},{"s":4,"x":3.35,"y":0.48},{"s":4,"x":3.63,"y":0.54},{"s":4,"x":4.0,"y":0.62},{"s":4,"x":4.27,"y":0.67},{"s":4,"x":4.46,"y":0.70},{"s":4,"x":4.7,"y":0.69},{"s":4,"x":5.0,"y":0.64},{"s":4,"x":5.25,"y":0.62},{"s":4,"x":5.5,"y":0.60},{"s":4,"x":5.88,"y":0.59},{"s":4,"x":6.25,"y":0.615},{"s":4,"x":6.8,"y":0.63},{"s":4,"x":7.26,"y":0.68},{"s":4,"x":7.72,"y":0.72},{"s":4,"x":8.18,"y":0.74},{"s":4,"x":8.63,"y":0.75},{"s":4,"x":9.1,"y":0.76},{"s":4,"x":9.56,"y":0.77},{"s":4,"x":10.0,"y":0.78}
]
},
"vconcat": [
{
 "width": 783, "height": 212,
 "title": {"text": "gas-Ob", "fontSize": 34, "font": "DejaVu Sans", "fontWeight": "normal", "anchor": "middle", "frame": "group", "offset": 12, "color": "black"},
 "resolve": {"axis": {"y": "independent"}},
 "layer": [
  {"data": {"name": "he"}, "mark": {"type": "line", "color": "black", "strokeWidth": 3},
   "encoding": {
    "x": {"field": "x", "type": "quantitative", "scale": {"domain": [-0.4276, 10.372], "nice": false, "zero": false}, "axis": null},
    "y": {"field": "y", "type": "quantitative", "scale": {"domain": [-0.059, 1.232], "nice": false, "zero": false},
     "axis": {"title": null, "orient": "left", "values": [0, 0.5, 1], "format": ".1f", "tickSize": 10, "tickWidth": 1.5, "labelPadding": 10, "labelFontSize": 22}},
    "detail": {"field": "s", "type": "nominal"}}},
  {"data": {"values": []}, "mark": "point",
   "encoding": {
    "x": {"field": "x", "type": "quantitative", "axis": null},
    "y": {"field": "y", "type": "quantitative", "axis": {"title": null, "orient": "left", "values": [0.1,0.2,0.3,0.4,0.6,0.7,0.8,0.9,1.1,1.2], "labels": false, "tickSize": 6, "tickWidth": 1.2}}}},
  {"data": {"values": [{"t": "He"}]}, "mark": {"type": "text", "align": "left", "baseline": "middle", "fontSize": 31, "font": "DejaVu Sans", "color": "black"},
   "encoding": {"x": {"datum": 1.0, "type": "quantitative", "axis": null}, "y": {"datum": 0.85, "type": "quantitative", "axis": null}, "text": {"field": "t"}}}
 ]
},
{
 "width": 783, "height": 212,
 "resolve": {"axis": {"y": "independent"}},
 "layer": [
  {"data": {"name": "he"}, "mark": {"type": "line", "color": "#ff0000", "strokeWidth": 3},
   "encoding": {
    "x": {"field": "x", "type": "quantitative", "scale": {"domain": [-0.4276, 10.372], "nice": false, "zero": false}, "axis": null},
    "y": {"field": "y", "type": "quantitative", "scale": {"domain": [-0.059, 1.232], "nice": false, "zero": false},
     "axis": {"title": null, "orient": "left", "values": [0, 0.5, 1], "format": ".1f", "tickSize": 10, "tickWidth": 1.5, "labelPadding": 10, "labelFontSize": 22}},
    "detail": {"field": "s", "type": "nominal"}}},
  {"data": {"values": []}, "mark": "point",
   "encoding": {
    "x": {"field": "x", "type": "quantitative", "axis": null},
    "y": {"field": "y", "type": "quantitative", "axis": {"title": null, "orient": "left", "values": [0.1,0.2,0.3,0.4,0.6,0.7,0.8,0.9,1.1,1.2], "labels": false, "tickSize": 6, "tickWidth": 1.2}}}},
  {"data": {"values": [{"t": "H₂"}]}, "mark": {"type": "text", "align": "left", "baseline": "middle", "fontSize": 31, "font": "DejaVu Sans", "color": "black"},
   "encoding": {"x": {"datum": 1.0, "type": "quantitative", "axis": null}, "y": {"datum": 0.85, "type": "quantitative", "axis": null}, "text": {"field": "t"}}}
 ]
},
{
 "width": 783, "height": 212,
 "resolve": {"axis": {"y": "independent"}},
 "layer": [
  {"data": {"name": "co2c"}, "mark": {"type": "line", "color": "#008000", "strokeWidth": 3},
   "encoding": {
    "x": {"field": "x", "type": "quantitative", "scale": {"domain": [-0.4276, 10.372], "nice": false, "zero": false}, "axis": null},
    "y": {"field": "y", "type": "quantitative", "scale": {"domain": [-0.059, 1.232], "nice": false, "zero": false},
     "axis": {"title": "g(r)", "titlePadding": 25, "titleFontSize": 34, "orient": "left", "values": [0, 0.5, 1], "format": ".1f", "tickSize": 10, "tickWidth": 1.5, "labelPadding": 10, "labelFontSize": 22}},
    "detail": {"field": "s", "type": "nominal"}}},
  {"data": {"values": []}, "mark": "point",
   "encoding": {
    "x": {"field": "x", "type": "quantitative", "axis": null},
    "y": {"field": "y", "type": "quantitative", "axis": {"title": null, "orient": "left", "values": [0.1,0.2,0.3,0.4,0.6,0.7,0.8,0.9,1.1,1.2], "labels": false, "tickSize": 6, "tickWidth": 1.2}}}},
  {"data": {"name": "co2o"}, "mark": {"type": "line", "color": "#00ffff", "strokeWidth": 3},
   "encoding": {
    "x": {"field": "x", "type": "quantitative", "axis": null},
    "y": {"field": "y", "type": "quantitative", "axis": null},
    "detail": {"field": "s", "type": "nominal"}}},
  {"data": {"values": [{"t": "C(CO₂)"}]}, "mark": {"type": "text", "align": "left", "baseline": "middle", "fontSize": 31, "font": "DejaVu Sans", "color": "black"},
   "encoding": {"x": {"datum": 1.0, "type": "quantitative", "axis": null}, "y": {"datum": 0.87, "type": "quantitative", "axis": null}, "text": {"field": "t"}}},
  {"data": {"values": [{"t": "O(CO₂)"}]}, "mark": {"type": "text", "align": "left", "baseline": "middle", "fontSize": 31, "font": "DejaVu Sans", "color": "black"},
   "encoding": {"x": {"datum": 1.0, "type": "quantitative", "axis": null}, "y": {"datum": 0.48, "type": "quantitative", "axis": null}, "text": {"field": "t"}}}
 ]
},
{
 "width": 783, "height": 212,
 "resolve": {"axis": {"y": "independent"}},
 "layer": [
  {"data": {"name": "ar"}, "mark": {"type": "line", "color": "#0000ff", "strokeWidth": 5},
   "encoding": {
    "x": {"field": "x", "type": "quantitative", "scale": {"domain": [-0.4276, 10.372], "nice": false, "zero": false}, "axis": null},
    "y": {"field": "y", "type": "quantitative", "scale": {"domain": [-0.059, 1.232], "nice": false, "zero": false},
     "axis": {"title": null, "orient": "left", "values": [0, 0.5, 1], "format": ".1f", "tickSize": 10, "tickWidth": 1.5, "labelPadding": 10, "labelFontSize": 22}},
    "detail": {"field": "s", "type": "nominal"}}},
  {"data": {"values": []}, "mark": "point",
   "encoding": {
    "x": {"field": "x", "type": "quantitative", "axis": null},
    "y": {"field": "y", "type": "quantitative", "axis": {"title": null, "orient": "left", "values": [0.1,0.2,0.3,0.4,0.6,0.7,0.8,0.9,1.1,1.2], "labels": false, "tickSize": 6, "tickWidth": 1.2}}}},
  {"data": {"values": [{"t": "Ar"}]}, "mark": {"type": "text", "align": "left", "baseline": "middle", "fontSize": 31, "font": "DejaVu Sans", "color": "black"},
   "encoding": {"x": {"datum": 1.0, "type": "quantitative", "axis": null}, "y": {"datum": 0.85, "type": "quantitative", "axis": null}, "text": {"field": "t"}}}
 ]
},
{
 "width": 783, "height": 212,
 "resolve": {"axis": {"x": "independent", "y": "independent"}},
 "layer": [
  {"data": {"name": "ch4c"}, "mark": {"type": "line", "color": "#ffa500", "strokeWidth": 4},
   "encoding": {
    "x": {"field": "x", "type": "quantitative", "scale": {"domain": [-0.4276, 10.372], "nice": false, "zero": false},
     "axis": {"title": "Z\u00a0\u00a0, Å", "titlePadding": 14, "titleFontSize": 34, "orient": "bottom", "values": [0, 2, 4, 6, 8, 10], "format": "d", "tickSize": 10, "tickWidth": 1.5, "labelFlush": false, "labelPadding": 6, "labelFontSize": 22}},
    "y": {"field": "y", "type": "quantitative", "scale": {"domain": [-0.059, 1.232], "nice": false, "zero": false},
     "axis": {"title": null, "orient": "left", "values": [0, 0.5, 1], "format": ".1f", "tickSize": 10, "tickWidth": 1.5, "labelPadding": 10, "labelFontSize": 22}},
    "detail": {"field": "s", "type": "nominal"}}},
  {"data": {"values": []}, "mark": "point",
   "encoding": {
    "x": {"field": "x", "type": "quantitative", "axis": {"title": null, "orient": "bottom", "values": [0.5,1,1.5,2.5,3,3.5,4.5,5,5.5,6.5,7,7.5,8.5,9,9.5], "labels": false, "tickSize": 6, "tickWidth": 1.2}},
    "y": {"field": "y", "type": "quantitative", "axis": {"title": null, "orient": "left", "values": [0.1,0.2,0.3,0.4,0.6,0.7,0.8,0.9,1.1,1.2], "labels": false, "tickSize": 6, "tickWidth": 1.2}}}},
  {"data": {"name": "ch4h"}, "mark": {"type": "line", "color": "#ff00ff", "strokeWidth": 5},
   "encoding": {
    "x": {"field": "x", "type": "quantitative", "axis": null},
    "y": {"field": "y", "type": "quantitative", "axis": null},
    "detail": {"field": "s", "type": "nominal"}}},
  {"data": {"values": [{"t": "C(CH₄)"}]}, "mark": {"type": "text", "align": "left", "baseline": "middle", "fontSize": 31, "font": "DejaVu Sans", "color": "black"},
   "encoding": {"x": {"datum": 1.0, "type": "quantitative", "axis": null}, "y": {"datum": 0.85, "type": "quantitative", "axis": null}, "text": {"field": "t"}}},
  {"data": {"values": [{"t": "H(CH₄)"}]}, "mark": {"type": "text", "align": "left", "baseline": "middle", "fontSize": 31, "font": "DejaVu Sans", "color": "black"},
   "encoding": {"x": {"datum": 1.0, "type": "quantitative", "axis": null}, "y": {"datum": 0.45, "type": "quantitative", "axis": null}, "text": {"field": "t"}}}
 ]
}
]
}
